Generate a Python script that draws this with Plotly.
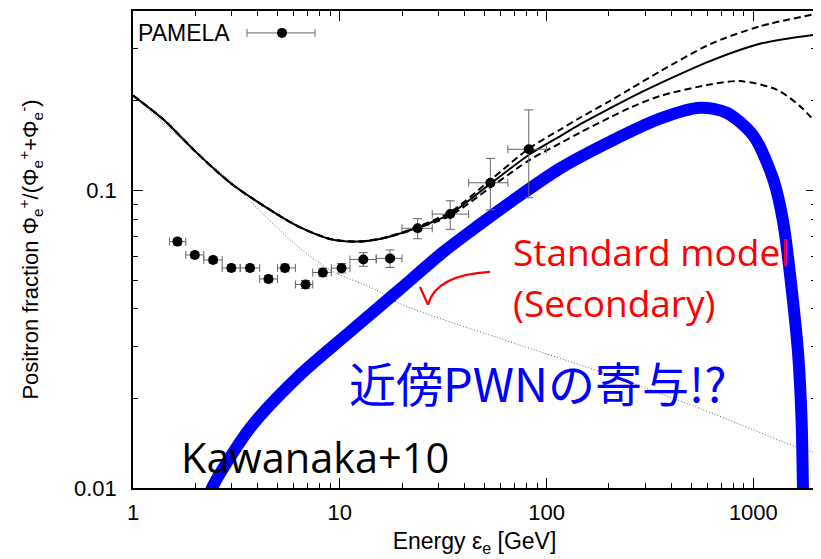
import plotly.graph_objects as go

# ---------------- data ----------------
# PAMELA positron fraction
pamela_e = [1.64, 1.99, 2.44, 2.99, 3.68, 4.52, 5.43, 6.83, 8.28, 10.2, 13.0, 17.5, 23.8, 34.2, 53.5, 82.0]
pamela_f = [0.0673, 0.0607, 0.0584, 0.0549, 0.0549, 0.0504, 0.0549, 0.0483, 0.0530, 0.0548, 0.0586, 0.0591,
            0.0746, 0.0833, 0.1061, 0.1375]
bin_lo = [1.5, 1.8, 2.2, 2.7, 3.3, 4.1, 5.0, 6.1, 7.4, 9.1, 11.2, 15.0, 20.0, 28.0, 42.0, 65.0]
bin_hi = [1.8, 2.2, 2.7, 3.3, 4.1, 5.0, 6.1, 7.4, 9.1, 11.2, 15.0, 20.0, 28.0, 42.0, 65.0, 100.0]
err_up = [0.0016, 0.0014, 0.0014, 0.0014, 0.0014, 0.0014, 0.0016, 0.0015, 0.0017, 0.0020, 0.0032, 0.0040,
          0.0058, 0.0090, 0.0220, 0.0490]
err_dn = [0.0016, 0.0014, 0.0014, 0.0014, 0.0014, 0.0014, 0.0016, 0.0015, 0.0017, 0.0020, 0.0030, 0.0040,
          0.0058, 0.0093, 0.0200, 0.0430]

# total model (solid)
total_e = [1.0, 1.4, 2.03, 2.94, 4.27, 6.19, 8.97, 12.1, 16.2, 22.7, 34.1, 53.2, 83.0, 116, 145, 203, 253, 353,
           617, 1076, 2010]
total_f = [0.2085, 0.1733, 0.134, 0.1063, 0.0889, 0.0762, 0.0687, 0.0673, 0.0691, 0.0742, 0.0833, 0.105, 0.1323,
           0.152, 0.1667, 0.189, 0.2048, 0.229, 0.272, 0.311, 0.334]

# upper / lower dashed model variants
upper_e = [1.0, 1.4, 2.03, 2.94, 4.27, 6.19, 8.97, 12.1, 16.2, 22.7, 34.1, 53.2, 83.0, 116, 145, 203, 253, 353,
           617, 1076, 2010]
upper_f = [0.2085, 0.1733, 0.134, 0.1063, 0.0889, 0.0762, 0.0687, 0.0673, 0.0692, 0.0746, 0.0845, 0.108, 0.139,
           0.1599, 0.1755, 0.200, 0.219, 0.251, 0.310, 0.356, 0.392]
lower_e = [1.0, 1.4, 2.03, 2.94, 4.27, 6.19, 8.97, 12.1, 16.2, 22.7, 34.1, 53.2, 83.0, 116, 145, 203, 253, 353,
           617, 861, 1296, 1680, 2010]
lower_f = [0.2085, 0.1733, 0.134, 0.1063, 0.0889, 0.0762, 0.0687, 0.0673, 0.0690, 0.0739, 0.0822, 0.102, 0.1267,
           0.1438, 0.1564, 0.176, 0.1896, 0.2075, 0.227, 0.233, 0.2183, 0.192, 0.1689]

# secondary (standard model), dotted
second_e = [1.0, 2.03, 2.94, 4.27, 6.19, 8.97, 15.1, 19.6, 59.5, 181, 552, 1680, 2010]
second_f = [0.2085, 0.134, 0.108, 0.0831, 0.0653, 0.054, 0.0462, 0.0416, 0.0318, 0.0246, 0.0185, 0.0136, 0.0131]

# nearby PWN contribution (blue)
pwn_e = [2.35, 2.41, 3.68, 6.42, 11.2, 19.55, 31.55, 47.6, 68.8, 116, 203, 353, 552, 743, 1000, 1248, 1395, 1532,
         1648, 1712, 1738, 1745]
pwn_f = [0.0094, 0.0100, 0.0159, 0.0240, 0.0335, 0.0466, 0.0620, 0.0769, 0.0926, 0.1185, 0.1459, 0.1742, 0.1896,
         0.1824, 0.1527, 0.109, 0.0781, 0.0467, 0.0280, 0.0167, 0.0100, 0.0092]

x_ticks = [1, 10, 100, 1000]
x_ticktext = ["1", "10", "100", "1000"]
x_minor = [2, 3, 4, 5, 6, 7, 8, 9, 20, 30, 40, 50, 60, 70, 80, 90, 200, 300, 400, 500, 600, 700, 800, 900, 2000]
y_ticks = [0.01, 0.1]
y_ticktext = ["0.01", "0.1"]
y_minor = [0.02, 0.03, 0.04, 0.05, 0.06, 0.07, 0.08, 0.09, 0.2, 0.3, 0.4]

AXFONT = "Liberation Sans, Arial, sans-serif"
TXTFONT = "Open Sans, Lato, sans-serif"

# plot area in page pixels (page has an 8px body margin)
PX0, PX1, PY0, PY1 = 133, 816, 9, 488


def px(x):
    return (x - PX0) / (PX1 - PX0)


def py(y):
    return (PY1 - y) / (PY1 - PY0)


fig = go.Figure()

fig.add_trace(go.Scatter(x=second_e, y=second_f, mode="lines", line=dict(color="#666666", width=1, dash="1px,2px"),
                         line_shape="spline", line_smoothing=0.8, showlegend=False, hoverinfo="skip"))
fig.add_trace(go.Scatter(x=upper_e, y=upper_f, mode="lines", line=dict(color="black", width=2, dash="7px,4px"),
                         line_shape="spline", line_smoothing=0.8, showlegend=False))
fig.add_trace(go.Scatter(x=lower_e, y=lower_f, mode="lines", line=dict(color="black", width=2, dash="7px,4px"),
                         line_shape="spline", line_smoothing=0.8, showlegend=False))
fig.add_trace(go.Scatter(x=total_e, y=total_f, mode="lines", line=dict(color="black", width=2),
                         line_shape="spline", line_smoothing=0.8, showlegend=False))
fig.add_trace(go.Scatter(x=pwn_e, y=pwn_f, mode="lines", line=dict(color="#0000FF", width=12),
                         line_shape="spline", line_smoothing=0.8, showlegend=False))

fig.add_trace(go.Scatter(
    x=pamela_e, y=pamela_f, mode="markers", name="PAMELA",
    marker=dict(color="black", size=10),
    error_x=dict(type="data", symmetric=False,
                 array=[h - e for h, e in zip(bin_hi, pamela_e)],
                 arrayminus=[e - l for e, l in zip(pamela_e, bin_lo)],
                 color="#666666", thickness=1, width=4),
    error_y=dict(type="data", symmetric=False, array=err_up, arrayminus=err_dn,
                 color="#666666", thickness=1, width=4.5),
    showlegend=False))

# legend key (decoration) for PAMELA
ly = py(31)
shapes = [
    dict(type="line", xref="paper", yref="paper", x0=px(247), x1=px(315), y0=ly, y1=ly,
         line=dict(color="#666666", width=1)),
    dict(type="line", xref="paper", yref="paper", xsizemode="pixel", ysizemode="pixel",
         xanchor=px(247), yanchor=ly, x0=0, x1=0, y0=-4, y1=4, line=dict(color="#666666", width=1)),
    dict(type="line", xref="paper", yref="paper", xsizemode="pixel", ysizemode="pixel",
         xanchor=px(315), yanchor=ly, x0=0, x1=0, y0=-4, y1=4, line=dict(color="#666666", width=1)),
    dict(type="circle", xref="paper", yref="paper", xsizemode="pixel", ysizemode="pixel",
         xanchor=px(282), yanchor=ly, x0=-5, x1=5, y0=-5, y1=5,
         fillcolor="black", line=dict(color="black", width=0)),
    # red curved arrow
    dict(type="path", xref="paper", yref="paper",
         path=f"M {px(490):.4f},{py(271):.4f} Q {px(436):.4f},{py(274):.4f} {px(428):.4f},{py(304):.4f}",
         line=dict(color="red", width=2.2)),
    dict(type="line", xref="paper", yref="paper", x0=px(420), y0=py(286), x1=px(428), y1=py(304),
         line=dict(color="red", width=2.2)),
]

annotations = [
    dict(text="PAMELA", xref="paper", yref="paper", x=px(136), y=ly, xanchor="left", yanchor="middle",
         showarrow=False, font=dict(family=AXFONT, size=23, color="black")),
    dict(text="Standard model", xref="paper", yref="paper", x=px(511), y=py(251),
         xanchor="left", yanchor="middle", showarrow=False, font=dict(family=TXTFONT, size=37, color="red")),
    dict(text="(Secondary)", xref="paper", yref="paper", x=px(511), y=py(302),
         xanchor="left", yanchor="middle", showarrow=False, font=dict(family=TXTFONT, size=37, color="red")),
    dict(text="近傍PWNの寄与!?", xref="paper", yref="paper", x=px(347), y=py(381),
         xanchor="left", yanchor="middle", showarrow=False,
         font=dict(family="Noto Sans CJK JP", size=47, color="#0000FF")),
    dict(text="Kawanaka+10", xref="paper", yref="paper", x=px(179), y=py(457),
         xanchor="left", yanchor="middle", showarrow=False, font=dict(family=TXTFONT, size=41.5, color="black")),
]

fig.update_layout(
    width=813, height=551,
    margin=dict(l=125, r=5, t=1, b=71),
    paper_bgcolor="white", plot_bgcolor="white",
    showlegend=False,
    shapes=shapes, annotations=annotations,
    xaxis=dict(type="log", range=[0, 3.303], showgrid=False, zeroline=False,
               showline=True, linecolor="black", linewidth=1.5, mirror="ticks",
               ticks="inside", ticklen=10, tickwidth=1, tickcolor="black",
               tickvals=x_ticks, ticktext=x_ticktext, ticklabelstandoff=4,
               tickfont=dict(family=AXFONT, size=22, color="black"),
               minor=dict(tickvals=x_minor, ticks="inside", ticklen=5, tickwidth=1, tickcolor="black",
                          showgrid=False),
               title=dict(text="Energy ε<sub>e</sub> [GeV]", font=dict(family=AXFONT, size=23, color="black"),
                          standoff=9)),
    yaxis=dict(type="log", range=[-2, -0.397], showgrid=False, zeroline=False,
               showline=True, linecolor="black", linewidth=1.5, mirror="ticks",
               ticks="inside", ticklen=10, tickwidth=1, tickcolor="black",
               tickvals=y_ticks, ticktext=y_ticktext, ticklabelstandoff=10,
               tickfont=dict(family=AXFONT, size=22, color="black"),
               minor=dict(tickvals=y_minor, ticks="inside", ticklen=5, tickwidth=1, tickcolor="black",
                          showgrid=False),
               title=dict(text="Positron fraction Φ<sub>e</sub><sup>+</sup>/(Φ<sub>e</sub><sup>+</sup>+Φ<sub>e</sub><sup>-</sup>)",
                          font=dict(family=AXFONT, size=22, color="black"), standoff=29)),
)

fig.write_html("out.html")
